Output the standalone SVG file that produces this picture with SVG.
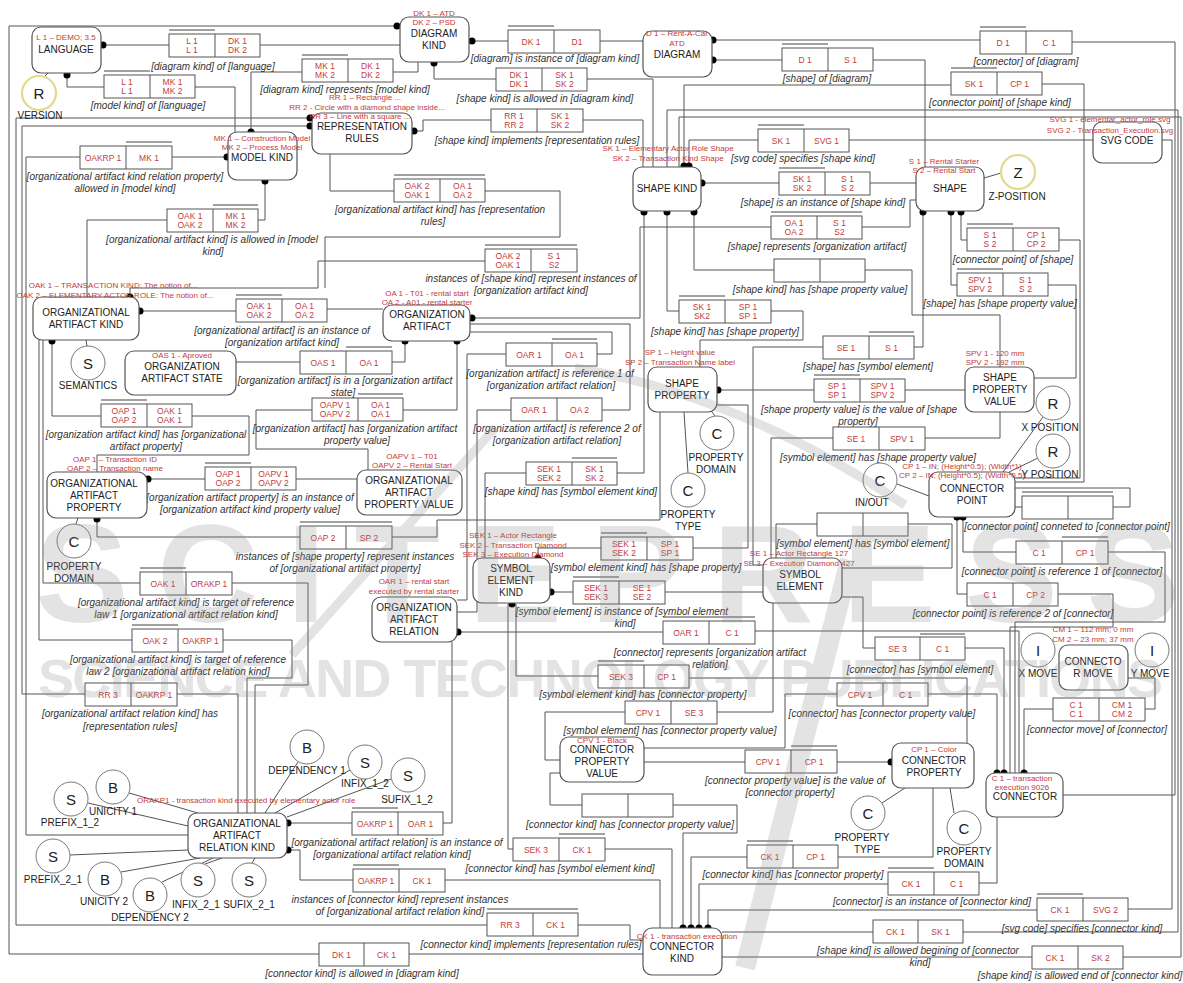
<svg xmlns="http://www.w3.org/2000/svg" width="1183" height="983" viewBox="0 0 1183 983">
<style>
.e{fill:#fff;stroke:#555;stroke-width:1.2}
.t{font-family:"Liberation Sans",Arial,sans-serif;font-size:10px;fill:#222;text-anchor:middle}
.r{font-family:"Liberation Sans",Arial,sans-serif;font-size:8px;fill:#c23b3b;text-anchor:middle}
.rs{font-family:"Liberation Sans",Arial,sans-serif;font-size:8px;fill:#c23b3b}
.ft{font-family:"Liberation Sans",Arial,sans-serif;font-size:8.5px;fill:#c23b3b;text-anchor:middle}
.c{font-family:"Liberation Sans",Arial,sans-serif;font-size:10px;font-style:italic;fill:#333;text-anchor:middle}
.b{fill:#fff;stroke:#555;stroke-width:1}
.d{fill:none;stroke:#555;stroke-width:1}
.bar{fill:none;stroke:#444;stroke-width:1.2}
.cn path{fill:none;stroke:#555;stroke-width:1}
.dots circle{fill:#000}
.v{fill:#fff;stroke:#777;stroke-width:1}
.vy{fill:#fff;stroke:#e3d98c;stroke-width:2.2}
.vl{font-family:"Liberation Sans",Arial,sans-serif;font-size:15px;fill:#222;text-anchor:middle}
.wm{font-family:"Liberation Sans",Arial,sans-serif;font-weight:bold;fill:#8c8c8c}
</style>
<rect width="1183" height="983" fill="#fff"/>
<g id="connectors" class="cn">
<path d="M397,26H9V954H319"/><path d="M409,954H643"/><path d="M103,45H169"/><path d="M260,45H400"/>
<path d="M67,75V87H104"/><path d="M195,87H235V132"/><path d="M251,132V72H302"/><path d="M393,72H418V62"/>
<path d="M472,41H508"/><path d="M600,41H643"/><path d="M434,63V79H496"/><path d="M587,79H653V167"/>
<path d="M414,131H423V120H491"/><path d="M583,120H643V167"/><path d="M330,154V191H394"/>
<path d="M485,191H560V237H325V288"/><path d="M80,157H26V835H188"/><path d="M172,157H227"/>
<path d="M167,220H87V297"/><path d="M258,220H265V181"/><path d="M485,261H318V288H130V297"/>
<path d="M140,311H236"/><path d="M327,309H383"/><path d="M236,362H300"/><path d="M392,362H405V341"/>
<path d="M403,410H457V341"/><path d="M312,410H256V449H368V470"/><path d="M52,341V416H101"/>
<path d="M192,416H249V455H97V472"/><path d="M148,479H205"/><path d="M296,479H357"/>
<path d="M97,519V537H300"/><path d="M392,537H437V520H660V412"/><path d="M43,340V583H140"/>
<path d="M232,583H308V685H255V813"/><path d="M39,340V640H132"/><path d="M223,640H292V678H247V813"/>
<path d="M310,126H22V694H85"/><path d="M177,694H238V813"/><path d="M310,118H16V925H487"/>
<path d="M578,925H630V940H643"/><path d="M288,823H352"/><path d="M443,823H452V642"/>
<path d="M288,850H300V880H353"/><path d="M445,880H660V928"/><path d="M758,140H689V166"/>
<path d="M849,140H1093"/><path d="M702,183H779"/><path d="M870,183H916"/><path d="M472,318H640V227H771"/>
<path d="M862,227H910V200H916"/><path d="M694,212V270H774"/><path d="M865,270H912V315H1000V367"/>
<path d="M667,212V311H679"/><path d="M771,311H803V340H700V367"/><path d="M713,60H782"/>
<path d="M873,60H925V167"/><path d="M713,40H980"/><path d="M1072,42H1175V795H1063"/>
<path d="M684,166V85H951"/><path d="M1042,84H1084V482H1015"/><path d="M961,212V240H967"/>
<path d="M1059,240H1080V478H1015"/><path d="M951,212V285H957"/><path d="M1048,285H1076V378H1034"/>
<path d="M823,347H753V565H763"/><path d="M914,347H923V212"/><path d="M1162,140H1172V909H1128"/>
<path d="M1037,910H708V928"/><path d="M963,932H1178V110H667V167"/><path d="M873,932H722"/>
<path d="M1123,957H1181V117H679V167"/><path d="M1032,957H722"/><path d="M718,390H814"/>
<path d="M905,390H965"/><path d="M833,438H771V558"/><path d="M925,438H1000V412"/>
<path d="M526,473H485V558"/><path d="M617,473H644V212"/><path d="M506,354H467V600H457"/>
<path d="M597,354H612V332H470"/><path d="M511,410H477V612H457"/><path d="M602,410H630V324H470"/>
<path d="M538,558V548H601"/><path d="M693,548H748V405H717"/><path d="M551,592H573"/>
<path d="M665,592H763"/><path d="M458,632H663"/><path d="M755,631H1019V773"/>
<path d="M516,604V676H598"/><path d="M508,604V849H513"/><path d="M689,678H967V743"/>
<path d="M625,712H545V760H560"/><path d="M717,712H773V603"/><path d="M745,762H644"/>
<path d="M837,762H891"/><path d="M560,773H550V805H582"/><path d="M673,805H737V833H683V928"/>
<path d="M605,849H672V928"/><path d="M747,857H691V928"/><path d="M838,857H933V788"/>
<path d="M888,884H699V928"/><path d="M979,883H997V817"/><path d="M963,517V552H1016"/>
<path d="M1108,552H1165V622H1015V773"/><path d="M957,517V594H967"/><path d="M1058,594H1113V627H1010V773"/>
<path d="M1015,507H1022"/><path d="M1113,507H1130V488H1015"/><path d="M817,524H776V558"/>
<path d="M908,524H952V568H842"/><path d="M842,597H863V648H875"/><path d="M965,648H1004V773"/>
<path d="M837,694H785V748H644"/><path d="M928,694H997V773"/><path d="M1053,709H1024V773"/>
<path d="M1145,709H1155V678H1128"/>
<path d="M48,73L44,77"/><path d="M984,178L1001,173"/><path d="M86,340L87,346"/><path d="M78,518L76,524"/>
<path d="M712,412L715,416"/><path d="M684,412L688,473"/><path d="M897,484L929,496"/>
<path d="M1003,472L1043,417"/><path d="M1009,472L1038,458"/><path d="M905,788L882,803"/><path d="M950,788L954,813"/>
<path d="M88,803L188,826"/><path d="M129,793L198,813"/><path d="M70,855L188,850"/><path d="M121,872L200,858"/>
<path d="M162,882L213,858"/><path d="M205,864L222,858"/><path d="M252,863L255,858"/><path d="M298,762L265,813"/>
<path d="M350,770L275,813"/><path d="M391,779L287,817"/>
<g class="dots">
<circle cx="397" cy="26" r="3.5"/><circle cx="103" cy="45" r="3.5"/><circle cx="67" cy="75" r="3.5"/><circle cx="251" cy="132" r="3.5"/>
<circle cx="472" cy="41" r="3.5"/><circle cx="434" cy="63" r="3.5"/><circle cx="310" cy="118" r="3.5"/><circle cx="310" cy="126" r="3.5"/>
<circle cx="414" cy="131" r="3.5"/><circle cx="227" cy="157" r="3.5"/><circle cx="265" cy="181" r="3.5"/><circle cx="130" cy="297" r="3.5"/>
<circle cx="140" cy="311" r="3.5"/><circle cx="52" cy="341" r="3.5"/><circle cx="405" cy="341" r="3.5"/><circle cx="457" cy="341" r="3.5"/>
<circle cx="472" cy="318" r="3.5"/><circle cx="148" cy="479" r="3.5"/><circle cx="97" cy="519" r="3.5"/><circle cx="288" cy="823" r="3.5"/>
<circle cx="288" cy="850" r="3.5"/><circle cx="689" cy="166" r="3.5"/><circle cx="684" cy="166" r="3.5"/><circle cx="702" cy="183" r="3.5"/>
<circle cx="644" cy="212" r="3.5"/><circle cx="667" cy="212" r="3.5"/><circle cx="694" cy="212" r="3.5"/><circle cx="713" cy="40" r="3.5"/>
<circle cx="713" cy="60" r="3.5"/><circle cx="923" cy="212" r="3.5"/><circle cx="951" cy="212" r="3.5"/><circle cx="961" cy="212" r="3.5"/>
<circle cx="718" cy="390" r="3.5"/><circle cx="538" cy="558" r="3.5"/><circle cx="551" cy="592" r="3.5"/><circle cx="512" cy="604" r="3.5"/>
<circle cx="458" cy="632" r="3.5"/><circle cx="891" cy="762" r="3.5"/><circle cx="683" cy="928" r="3.5"/><circle cx="691" cy="928" r="3.5"/>
<circle cx="699" cy="928" r="3.5"/><circle cx="708" cy="928" r="3.5"/><circle cx="957" cy="517" r="3.5"/><circle cx="963" cy="517" r="3.5"/>
<circle cx="997" cy="773" r="3.5"/><circle cx="1004" cy="773" r="3.5"/><circle cx="1024" cy="773" r="3.5"/>
</g>
</g>
<g id="facts">
<g id="f01"><rect class="b" x="169" y="34" width="91" height="23"/><path class="d" d="M215,34V57"/><path class="bar" d="M169,30H215"/><text class="ft" x="192" y="43.5">L 1</text><text class="ft" x="192" y="53">L 1</text><text class="ft" x="237.5" y="43.5">DK 1</text><text class="ft" x="237.5" y="53">DK 2</text><text class="c" x="213" y="70">[diagram kind] of [language]</text></g>
<g id="f02"><rect class="b" x="104" y="75" width="91" height="23"/><path class="d" d="M150,75V98"/><path class="bar" d="M104,71H150"/><text class="ft" x="127" y="84.5">L 1</text><text class="ft" x="127" y="94">L 1</text><text class="ft" x="172.5" y="84.5">MK 1</text><text class="ft" x="172.5" y="94">MK 2</text><text class="c" x="148" y="109">[model kind] of [language]</text></g>
<g id="f03"><rect class="b" x="302" y="59" width="91" height="23"/><path class="d" d="M348,59V82"/><path class="bar" d="M302,55H348"/><text class="ft" x="325" y="68.5">MK 1</text><text class="ft" x="325" y="78">MK 2</text><text class="ft" x="370.5" y="68.5">DK 1</text><text class="ft" x="370.5" y="78">DK 2</text><text class="c" x="345" y="93">[diagram kind] represents [model kind]</text></g>
<g id="f04"><rect class="b" x="508" y="30" width="92" height="23"/><path class="d" d="M554,30V53"/><path class="bar" d="M508,26H554"/><text class="ft" x="531" y="44.5">DK 1</text><text class="ft" x="577" y="44.5">D1</text><text class="c" x="555" y="62">[diagram] is instance of [diagram kind]</text></g>
<g id="f05"><rect class="b" x="496" y="68" width="91" height="23"/><path class="d" d="M542,68V91"/><text class="ft" x="519" y="77.5">DK 1</text><text class="ft" x="519" y="87">DK 1</text><text class="ft" x="564.5" y="77.5">SK 1</text><text class="ft" x="564.5" y="87">SK 2</text><text class="c" x="545" y="102">[shape kind] is allowed in [diagram kind]</text></g>
<g id="f06"><rect class="b" x="491" y="109" width="92" height="23"/><path class="d" d="M537,109V132"/><text class="ft" x="514" y="118.5">RR 1</text><text class="ft" x="514" y="128">RR 2</text><text class="ft" x="560" y="118.5">SK 1</text><text class="ft" x="560" y="128">SK 2</text><text class="c" x="537" y="144">[shape kind] implements [representation rules]</text></g>
<g id="f07"><rect class="b" x="394" y="179" width="91" height="23"/><path class="d" d="M440,179V202"/><path class="bar" d="M394,175H485"/><text class="ft" x="417" y="188.5">OAK 2</text><text class="ft" x="417" y="198">OAK 1</text><text class="ft" x="462.5" y="188.5">OA 1</text><text class="ft" x="462.5" y="198">OA 2</text><text class="c" x="440" y="213">[organizational artifact kind] has [representation</text><text class="c" x="433" y="225">rules]</text></g>
<g id="f08"><rect class="b" x="80" y="146" width="92" height="23"/><path class="d" d="M126,146V169"/><path class="bar" d="M126,142H172"/><text class="ft" x="103" y="160.5">OAKRP 1</text><text class="ft" x="149" y="160.5">MK 1</text><text class="c" x="125" y="180">[organizational artifact kind relation property]</text><text class="c" x="125" y="192">allowed in [model kind]</text></g>
<g id="f09"><rect class="b" x="167" y="209" width="91" height="23"/><path class="d" d="M213,209V232"/><path class="bar" d="M213,205H258"/><text class="ft" x="190" y="218.5">OAK 1</text><text class="ft" x="190" y="228">OAK 2</text><text class="ft" x="235.5" y="218.5">MK 1</text><text class="ft" x="235.5" y="228">MK 2</text><text class="c" x="212" y="243">[organizational artifact kind] is allowed in [model</text><text class="c" x="213" y="255">kind]</text></g>
<g id="f10"><rect class="b" x="485" y="249" width="92" height="23"/><path class="d" d="M531,249V272"/><path class="bar" d="M485,245H577"/><text class="ft" x="508" y="258.5">OAK 2</text><text class="ft" x="508" y="268">OAK 1</text><text class="ft" x="554" y="258.5">S 1</text><text class="ft" x="554" y="268">S2</text><text class="c" x="531" y="282">instances of [shape kind] represent instances of</text><text class="c" x="531" y="294">[organization artifact kind]</text></g>
<g id="f11"><rect class="b" x="236" y="299" width="91" height="23"/><path class="d" d="M282,299V322"/><path class="bar" d="M236,295H282"/><text class="ft" x="259" y="308.5">OAK 1</text><text class="ft" x="259" y="318">OAK 2</text><text class="ft" x="304.5" y="308.5">OA 1</text><text class="ft" x="304.5" y="318">OA 2</text><text class="c" x="282" y="334">[organizational artifact] is an instance of</text><text class="c" x="282" y="346">[organization artifact kind]</text></g>
<g id="f12"><rect class="b" x="300" y="351" width="92" height="23"/><path class="d" d="M346,351V374"/><path class="bar" d="M346,347H392"/><text class="ft" x="323" y="365.5">OAS 1</text><text class="ft" x="369" y="365.5">OA 1</text><text class="c" x="345" y="384">[organization artifact] is in a [organization artifact</text><text class="c" x="343" y="396">state]</text></g>
<g id="f13"><rect class="b" x="312" y="398" width="91" height="23"/><path class="d" d="M358,398V421"/><path class="bar" d="M358,394H403"/><text class="ft" x="335" y="407.5">OAPV 1</text><text class="ft" x="335" y="417">OAPV 2</text><text class="ft" x="380.5" y="407.5">OA 1</text><text class="ft" x="380.5" y="417">OA 1</text><text class="c" x="355" y="432">[organization artifact] has [organization artifact</text><text class="c" x="357" y="444">property value]</text></g>
<g id="f14"><rect class="b" x="101" y="404" width="91" height="23"/><path class="d" d="M147,404V427"/><path class="bar" d="M101,400H147"/><text class="ft" x="124" y="413.5">OAP 1</text><text class="ft" x="124" y="423">OAP 2</text><text class="ft" x="169.5" y="413.5">OAK 1</text><text class="ft" x="169.5" y="423">OAK 1</text><text class="c" x="146" y="438">[organization artifact kind] has [organizational</text><text class="c" x="146" y="450">artifact property]</text></g>
<g id="f15"><rect class="b" x="205" y="467" width="91" height="23"/><path class="d" d="M251,467V490"/><path class="bar" d="M205,463H251"/><text class="ft" x="228" y="476.5">OAP 1</text><text class="ft" x="228" y="486">OAP 2</text><text class="ft" x="273.5" y="476.5">OAPV 1</text><text class="ft" x="273.5" y="486">OAPV 2</text><text class="c" x="250" y="501">[organization artifact property] is an instance of</text><text class="c" x="250" y="513">[organization artifact kind property value]</text></g>
<g id="f16"><rect class="b" x="300" y="526" width="92" height="23"/><path class="d" d="M346,526V549"/><path class="bar" d="M300,522H392"/><text class="ft" x="323" y="540.5">OAP 2</text><text class="ft" x="369" y="540.5">SP 2</text><text class="c" x="345" y="560">instances of [shape property] represent instances</text><text class="c" x="345" y="572">of [organizational artifact property]</text></g>
<g id="f17"><rect class="b" x="140" y="572" width="92" height="23"/><path class="d" d="M186,572V595"/><path class="bar" d="M140,568H186"/><text class="ft" x="163" y="586.5">OAK 1</text><text class="ft" x="209" y="586.5">ORAKP 1</text><text class="c" x="186" y="606">[organizational artifact kind] is target of reference</text><text class="c" x="186" y="618">law 1 [organizational artifact relation kind]</text></g>
<g id="f18"><rect class="b" x="132" y="629" width="91" height="23"/><path class="d" d="M178,629V652"/><path class="bar" d="M132,625H178"/><text class="ft" x="155" y="643.5">OAK 2</text><text class="ft" x="200.5" y="643.5">OAKRP 1</text><text class="c" x="178" y="663">[organizational artifact kind] is target of reference</text><text class="c" x="178" y="675">law 2 [organizational artifact relation kind]</text></g>
<g id="f19"><rect class="b" x="85" y="683" width="92" height="23"/><path class="d" d="M131,683V706"/><text class="ft" x="108" y="697.5">RR 3</text><text class="ft" x="154" y="697.5">OAKRP 1</text><text class="c" x="130" y="717">[organizational artifact relation kind] has</text><text class="c" x="130" y="730">[representation rules]</text></g>
<g id="f20"><rect class="b" x="352" y="812" width="91" height="23"/><path class="d" d="M398,812V835"/><path class="bar" d="M352,808H398"/><text class="ft" x="375" y="826.5">OAKRP 1</text><text class="ft" x="420.5" y="826.5">OAR 1</text><text class="c" x="397" y="846">[organizational artifact relation] is an instance of</text><text class="c" x="392" y="858">[organizational artifact relation kind]</text></g>
<g id="f21"><rect class="b" x="353" y="869" width="92" height="23"/><path class="d" d="M399,869V892"/><path class="bar" d="M353,865H399"/><text class="ft" x="376" y="883.5">OAKRP 1</text><text class="ft" x="422" y="883.5">CK 1</text><text class="c" x="400" y="903">instances of [connector kind] represent instances</text><text class="c" x="400" y="915">of [organizational artifact relation kind]</text></g>
<g id="f22"><rect class="b" x="487" y="913" width="91" height="23"/><path class="d" d="M533,913V936"/><path class="bar" d="M487,909H578"/><text class="ft" x="510" y="927.5">RR 3</text><text class="ft" x="555.5" y="927.5">CK 1</text><text class="c" x="531" y="948">[connector kind] implements [representation rules]</text></g>
<g id="f23"><rect class="b" x="319" y="943" width="90" height="23"/><path class="d" d="M364,943V966"/><text class="ft" x="341.5" y="957.5">DK 1</text><text class="ft" x="386.5" y="957.5">CK 1</text><text class="c" x="362" y="977">[connector kind] is allowed in [diagram kind]</text></g>
<g id="f24"><rect class="b" x="758" y="129" width="91" height="23"/><path class="d" d="M804,129V152"/><path class="bar" d="M758,125H804"/><text class="ft" x="781" y="143.5">SK 1</text><text class="ft" x="826.5" y="143.5">SVG 1</text><text class="c" x="803" y="162">[svg code] specifies [shape kind]</text></g>
<g id="f25"><rect class="b" x="779" y="172" width="91" height="23"/><path class="d" d="M825,172V195"/><path class="bar" d="M779,168H825"/><text class="ft" x="802" y="181.5">SK 1</text><text class="ft" x="802" y="191">SK 2</text><text class="ft" x="847.5" y="181.5">S 1</text><text class="ft" x="847.5" y="191">S 2</text><text class="c" x="823" y="206">[shape] is an instance of [shape kind]</text></g>
<g id="f26"><rect class="b" x="771" y="216" width="91" height="23"/><path class="d" d="M817,216V239"/><path class="bar" d="M771,212H862"/><text class="ft" x="794" y="225.5">OA 1</text><text class="ft" x="794" y="235">OA 2</text><text class="ft" x="839.5" y="225.5">S 1</text><text class="ft" x="839.5" y="235">S2</text><text class="c" x="817" y="250">[shape] represents [organization artifact]</text></g>
<g id="f27"><rect class="b" x="774" y="259" width="91" height="23"/><path class="d" d="M820,259V282"/><text class="c" x="820" y="293">[shape kind] has [shape property value]</text></g>
<g id="f28"><rect class="b" x="679" y="300" width="92" height="23"/><path class="d" d="M725,300V323"/><path class="bar" d="M679,296H725"/><text class="ft" x="702" y="309.5">SK 1</text><text class="ft" x="702" y="319">SK2</text><text class="ft" x="748" y="309.5">SP 1</text><text class="ft" x="748" y="319">SP 1</text><text class="c" x="725" y="335">[shape kind] has [shape property]</text></g>
<g id="f29"><rect class="b" x="782" y="48" width="91" height="23"/><path class="d" d="M828,48V71"/><path class="bar" d="M782,44H828"/><text class="ft" x="805" y="62.5">D 1</text><text class="ft" x="850.5" y="62.5">S 1</text><text class="c" x="827" y="82">[shape] of [diagram]</text></g>
<g id="f30"><rect class="b" x="980" y="31" width="92" height="23"/><path class="d" d="M1026,31V54"/><path class="bar" d="M980,27H1026"/><text class="ft" x="1003" y="45.5">D 1</text><text class="ft" x="1049" y="45.5">C 1</text><text class="c" x="1026" y="65">[connector] of [diagram]</text></g>
<g id="f31"><rect class="b" x="951" y="72" width="91" height="23"/><path class="d" d="M997,72V95"/><path class="bar" d="M951,68H997"/><text class="ft" x="974" y="86.5">SK 1</text><text class="ft" x="1019.5" y="86.5">CP 1</text><text class="c" x="1000" y="106">[connector point] of [shape kind]</text></g>
<g id="f32"><rect class="b" x="967" y="228" width="92" height="23"/><path class="d" d="M1013,228V251"/><path class="bar" d="M967,224H1013"/><text class="ft" x="990" y="237.5">S 1</text><text class="ft" x="990" y="247">S 2</text><text class="ft" x="1036" y="237.5">CP 1</text><text class="ft" x="1036" y="247">CP 2</text><text class="c" x="1013" y="263">[connector point] of [shape]</text></g>
<g id="f33"><rect class="b" x="957" y="273" width="91" height="23"/><path class="d" d="M1003,273V296"/><path class="bar" d="M957,269H1003"/><text class="ft" x="980" y="282.5">SPV 1</text><text class="ft" x="980" y="292">SPV 2</text><text class="ft" x="1025.5" y="282.5">S 1</text><text class="ft" x="1025.5" y="292">S 2</text><text class="c" x="1000" y="307">[shape] has [shape property value]</text></g>
<g id="f34"><rect class="b" x="823" y="336" width="91" height="23"/><path class="d" d="M869,336V359"/><path class="bar" d="M869,332H914"/><text class="ft" x="846" y="350.5">SE 1</text><text class="ft" x="891.5" y="350.5">S 1</text><text class="c" x="868" y="370">[shape] has [symbol element]</text></g>
<g id="f35"><rect class="b" x="814" y="379" width="91" height="23"/><path class="d" d="M860,379V402"/><path class="bar" d="M814,375H860"/><text class="ft" x="837" y="388.5">SP 1</text><text class="ft" x="837" y="398">SP 1</text><text class="ft" x="882.5" y="388.5">SPV 1</text><text class="ft" x="882.5" y="398">SPV 2</text><text class="c" x="859" y="413">[shape property value] is the value of [shape</text><text class="c" x="858" y="425">property]</text></g>
<g id="f36"><rect class="b" x="833" y="427" width="92" height="23"/><path class="d" d="M879,427V450"/><text class="ft" x="856" y="441.5">SE 1</text><text class="ft" x="902" y="441.5">SPV 1</text><text class="c" x="878" y="461">[symbol element] has [shape property value]</text></g>
<g id="f37"><rect class="b" x="526" y="462" width="91" height="23"/><path class="d" d="M572,462V485"/><path class="bar" d="M572,458H617"/><text class="ft" x="549" y="471.5">SEK 1</text><text class="ft" x="549" y="481">SEK 2</text><text class="ft" x="594.5" y="471.5">SK 1</text><text class="ft" x="594.5" y="481">SK 2</text><text class="c" x="571" y="495">[shape kind] has [symbol element kind]</text></g>
<g id="f38"><rect class="b" x="506" y="343" width="91" height="23"/><path class="d" d="M552,343V366"/><path class="bar" d="M552,339H597"/><text class="ft" x="529" y="357.5">OAR 1</text><text class="ft" x="574.5" y="357.5">OA 1</text><text class="c" x="550" y="377">[organization artifact] is reference 1 of</text><text class="c" x="551" y="389">[organization artifact relation]</text></g>
<g id="f39"><rect class="b" x="511" y="398" width="91" height="23"/><path class="d" d="M557,398V421"/><text class="ft" x="534" y="412.5">OAR 1</text><text class="ft" x="579.5" y="412.5">OA 2</text><text class="c" x="557" y="432">[organization artifact] is reference 2 of</text><text class="c" x="557" y="444">[organization artifact relation]</text></g>
<g id="f40"><rect class="b" x="601" y="537" width="92" height="23"/><path class="d" d="M647,537V560"/><path class="bar" d="M601,533H647"/><text class="ft" x="624" y="546.5">SEK 1</text><text class="ft" x="624" y="556">SEK 2</text><text class="ft" x="670" y="546.5">SP 1</text><text class="ft" x="670" y="556">SP 1</text><text class="c" x="646" y="571">[symbol element kind] has [shape property]</text></g>
<g id="f41"><rect class="b" x="573" y="581" width="92" height="23"/><path class="d" d="M619,581V604"/><path class="bar" d="M573,577H619"/><text class="ft" x="596" y="590.5">SEK 1</text><text class="ft" x="596" y="600">SEK 3</text><text class="ft" x="642" y="590.5">SE 1</text><text class="ft" x="642" y="600">SE 2</text><text class="c" x="622" y="615">[symbol element] is instance of [symbol element</text><text class="c" x="625" y="627">kind]</text></g>
<g id="f42"><rect class="b" x="663" y="621" width="92" height="23"/><path class="d" d="M709,621V644"/><path class="bar" d="M663,617H755"/><text class="ft" x="686" y="635.5">OAR 1</text><text class="ft" x="732" y="635.5">C 1</text><text class="c" x="710" y="656">[connector] represents [organization artifact</text><text class="c" x="710" y="668">relation]</text></g>
<g id="f43"><rect class="b" x="598" y="665" width="91" height="23"/><path class="d" d="M644,665V688"/><path class="bar" d="M598,661H644"/><text class="ft" x="621" y="679.5">SEK 3</text><text class="ft" x="666.5" y="679.5">CP 1</text><text class="c" x="643" y="698">[symbol element kind] has [connector property]</text></g>
<g id="f44"><rect class="b" x="625" y="701" width="92" height="23"/><path class="d" d="M671,701V724"/><text class="ft" x="648" y="715.5">CPV 1</text><text class="ft" x="694" y="715.5">SE 3</text><text class="c" x="670" y="734">[symbol element] has [connector property value]</text></g>
<g id="f45"><rect class="b" x="745" y="750" width="92" height="23"/><path class="d" d="M791,750V773"/><path class="bar" d="M791,746H837"/><text class="ft" x="768" y="764.5">CPV 1</text><text class="ft" x="814" y="764.5">CP 1</text><text class="c" x="795" y="784">[connector property value] is the value of</text><text class="c" x="790" y="796">[connector property]</text></g>
<g id="f46"><rect class="b" x="582" y="794" width="91" height="23"/><path class="d" d="M628,794V817"/><text class="c" x="630" y="828">[connector kind] has [connector property value]</text></g>
<g id="f47"><rect class="b" x="513" y="838" width="92" height="23"/><path class="d" d="M559,838V861"/><path class="bar" d="M559,834H605"/><text class="ft" x="536" y="852.5">SEK 3</text><text class="ft" x="582" y="852.5">CK 1</text><text class="c" x="560" y="872">[connector kind] has [symbol element kind]</text></g>
<g id="f48"><rect class="b" x="747" y="845" width="91" height="23"/><path class="d" d="M793,845V868"/><path class="bar" d="M747,841H793"/><text class="ft" x="770" y="859.5">CK 1</text><text class="ft" x="815.5" y="859.5">CP 1</text><text class="c" x="793" y="878">[connector kind] has [connector property]</text></g>
<g id="f49"><rect class="b" x="888" y="872" width="91" height="23"/><path class="d" d="M934,872V895"/><path class="bar" d="M888,868H934"/><text class="ft" x="911" y="886.5">CK 1</text><text class="ft" x="956.5" y="886.5">C 1</text><text class="c" x="932" y="905">[connector] is an instance of [connector kind]</text></g>
<g id="f50"><rect class="b" x="1037" y="898" width="91" height="23"/><path class="d" d="M1083,898V921"/><path class="bar" d="M1037,894H1083"/><text class="ft" x="1060" y="912.5">CK 1</text><text class="ft" x="1105.5" y="912.5">SVG 2</text><text class="c" x="1082" y="932">[svg code] specifies [connector kind]</text></g>
<g id="f51"><rect class="b" x="873" y="920" width="90" height="23"/><path class="d" d="M918,920V943"/><text class="ft" x="895.5" y="934.5">CK 1</text><text class="ft" x="940.5" y="934.5">SK 1</text><text class="c" x="918" y="954">[shape kind] is allowed begining of [connector</text><text class="c" x="920" y="966">kind]</text></g>
<g id="f52"><rect class="b" x="1032" y="946" width="91" height="23"/><path class="d" d="M1078,946V969"/><text class="ft" x="1055" y="960.5">CK 1</text><text class="ft" x="1100.5" y="960.5">SK 2</text><text class="c" x="1080" y="979">[shape kind] is allowed end of [connector kind]</text></g>
<g id="f53"><rect class="b" x="1016" y="541" width="92" height="23"/><path class="d" d="M1062,541V564"/><path class="bar" d="M1062,537H1108"/><text class="ft" x="1039" y="555.5">C 1</text><text class="ft" x="1085" y="555.5">CP 1</text><text class="c" x="1062" y="575">[connector point] is reference 1 of [connector]</text></g>
<g id="f54"><rect class="b" x="967" y="583" width="91" height="23"/><path class="d" d="M1013,583V606"/><text class="ft" x="990" y="597.5">C 1</text><text class="ft" x="1035.5" y="597.5">CP 2</text><text class="c" x="1013" y="617">[connector point] is reference 2 of [connector]</text></g>
<g id="f55"><rect class="b" x="1022" y="496" width="91" height="23"/><path class="d" d="M1068,496V519"/><path class="bar" d="M1022,492H1113"/><text class="c" x="1067" y="530">[connector point] conneted to [connector point]</text></g>
<g id="f56"><rect class="b" x="817" y="513" width="91" height="23"/><path class="d" d="M863,513V536"/><text class="c" x="863" y="547">[symbol element] has [symbol element]</text></g>
<g id="f57"><rect class="b" x="875" y="637" width="90" height="23"/><path class="d" d="M920,637V660"/><path class="bar" d="M920,634H965"/><text class="ft" x="897.5" y="651.5">SE 3</text><text class="ft" x="942.5" y="651.5">C 1</text><text class="c" x="920" y="673">[connector] has [symbol element]</text></g>
<g id="f58"><rect class="b" x="837" y="683" width="91" height="23"/><path class="d" d="M883,683V706"/><text class="ft" x="860" y="697.5">CPV 1</text><text class="ft" x="905.5" y="697.5">C 1</text><text class="c" x="882" y="717">[connector] has [connector property value]</text></g>
<g id="f59"><rect class="b" x="1053" y="698" width="92" height="23"/><path class="d" d="M1099,698V721"/><text class="ft" x="1076" y="707.5">C 1</text><text class="ft" x="1076" y="717">C 1</text><text class="ft" x="1122" y="707.5">CM 1</text><text class="ft" x="1122" y="717">CM 2</text><text class="c" x="1097" y="733">[connector move] of [connector]</text></g>
</g>
<g id="entities">
<g id="language"><rect class="e" x="32" y="27" width="69" height="46" rx="9"/><text class="r" x="66" y="40">L 1 – DEMO; 3.5</text><text class="t" x="66" y="53">LANGUAGE</text></g>
<g id="diagram-kind"><rect class="e" x="400" y="17" width="69" height="45" rx="9"/><text class="r" x="434" y="16">DK 1 – ATD</text><text class="r" x="434" y="25">DK 2 – PSD</text><text class="t" x="434" y="37">DIAGRAM</text><text class="t" x="434" y="49">KIND</text></g>
<g id="diagram"><rect class="e" x="643" y="31" width="69" height="46" rx="9"/><text class="r" x="677" y="36">D 1 – Rent-A-Car</text><text class="r" x="677" y="46">ATD</text><text class="t" x="677" y="58">DIAGRAM</text></g>
<g id="representation-rules"><rect class="e" x="312" y="113" width="100" height="41" rx="9"/><text class="r" x="365" y="100">RR 1 – Rectangle ...</text><text class="r" x="367" y="110">RR 2 - Circle with a diamond shape inside...</text><text class="r" x="360" y="119">RR 3 – Line with a square ...</text><text class="t" x="362" y="130">REPRESENTATION</text><text class="t" x="362" y="142">RULES</text></g>
<g id="model-kind"><rect class="e" x="228" y="132" width="69" height="48" rx="9"/><text class="r" x="262" y="141">MK 1 – Construction Model</text><text class="r" x="262" y="150">MK 2 – Process Model</text><text class="t" x="262" y="161">MODEL KIND</text></g>
<g id="shape-kind"><rect class="e" x="633" y="167" width="68" height="44" rx="9"/><text class="r" x="668" y="151">SK 1 – Elementary Actor Role Shape</text><text class="r" x="668" y="161">SK 2 – Transaction Kind Shape</text><text class="t" x="667" y="192">SHAPE KIND</text></g>
<g id="shape"><rect class="e" x="916" y="167" width="68" height="44" rx="9"/><text class="r" x="944" y="164">S 1 – Rental Starter</text><text class="r" x="944" y="173">S 2 – Rental Start</text><text class="t" x="950" y="192">SHAPE</text></g>
<g id="svg-code"><rect class="e" x="1093" y="122" width="69" height="41" rx="9"/><text class="r" x="1110" y="122">SVG 1 - elementar_actor_role.svg</text><text class="r" x="1110" y="133">SVG 2 - Transaction_Execution.svg</text><text class="t" x="1127" y="144">SVG CODE</text></g>
<g id="org-artifact-kind"><rect class="e" x="33" y="297" width="106" height="43" rx="9"/><text class="r" x="113" y="288">OAK 1 – TRANSACTION KIND: The notion of...</text><text class="r" x="115" y="298">OAK 2 – ELEMENTARY ACTOR ROLE: The notion of...</text><text class="t" x="86" y="316">ORGANIZATIONAL</text><text class="t" x="86" y="328">ARTIFACT KIND</text></g>
<g id="org-artifact-state"><rect class="e" x="125" y="351" width="111" height="44" rx="9"/><text class="r" x="182" y="358">OAS 1 - Aproved</text><text class="t" x="182" y="370">ORGANIZATION</text><text class="t" x="182" y="382">ARTIFACT STATE</text></g>
<g id="org-artifact"><rect class="e" x="383" y="305" width="87" height="36" rx="9"/><text class="r" x="427" y="296">OA 1 - T01 - rental start</text><text class="r" x="427" y="305">OA 2 - A01 - rental starter</text><text class="t" x="427" y="318">ORGANIZATION</text><text class="t" x="427" y="330">ARTIFACT</text></g>
<g id="org-artifact-property"><rect class="e" x="47" y="472" width="100" height="46" rx="9"/><text class="r" x="115" y="462">OAP 1 – Transaction ID</text><text class="r" x="115" y="471">OAP 2 – Transaction name</text><text class="t" x="94" y="487">ORGANIZATIONAL</text><text class="t" x="94" y="499">ARTIFACT</text><text class="t" x="94" y="511">PROPERTY</text></g>
<g id="org-artifact-property-value"><rect class="e" x="357" y="470" width="105" height="45" rx="9"/><text class="r" x="412" y="459">OAPV 1 – T01</text><text class="r" x="412" y="468">OAPV 2 – Rental Start</text><text class="t" x="409" y="484">ORGANIZATIONAL</text><text class="t" x="409" y="496">ARTIFACT</text><text class="t" x="409" y="508">PROPERTY VALUE</text></g>
<g id="org-artifact-relation"><rect class="e" x="372" y="597" width="85" height="45" rx="9"/><text class="r" x="414" y="584">OAR 1 – rental start</text><text class="r" x="414" y="594">executed by rental starter</text><text class="t" x="414" y="611">ORGANIZATION</text><text class="t" x="414" y="623">ARTIFACT</text><text class="t" x="414" y="635">RELATION</text></g>
<g id="symbol-element-kind"><rect class="e" x="473" y="558" width="77" height="45" rx="9"/><text class="r" x="513" y="538">SEK 1 – Actor Rectangle</text><text class="r" x="513" y="548">SEK 2 – Transaction Diamond</text><text class="r" x="513" y="557">SEK 3 – Execution Diamond</text><text class="t" x="511" y="572">SYMBOL</text><text class="t" x="511" y="584">ELEMENT</text><text class="t" x="511" y="596">KIND</text></g>
<g id="shape-property"><rect class="e" x="648" y="367" width="69" height="45" rx="9"/><text class="r" x="680" y="355">SP 1 – Height value</text><text class="r" x="680" y="365">SP 2 – Transaction Name label</text><text class="t" x="682" y="387">SHAPE</text><text class="t" x="682" y="399">PROPERTY</text></g>
<g id="symbol-element"><rect class="e" x="763" y="558" width="79" height="45" rx="9"/><text class="r" x="799" y="556">SE 1 – Actor Rectangle 127</text><text class="r" x="799" y="566">SE 3 – Execution Diamond 427</text><text class="t" x="800" y="578">SYMBOL</text><text class="t" x="800" y="590">ELEMENT</text></g>
<g id="shape-property-value"><rect class="e" x="965" y="367" width="69" height="45" rx="9"/><text class="r" x="995" y="356">SPV 1 - 120 mm</text><text class="r" x="995" y="365">SPV 2 - 192 mm</text><text class="t" x="1000" y="381">SHAPE</text><text class="t" x="1000" y="393">PROPERTY</text><text class="t" x="1000" y="405">VALUE</text></g>
<g id="connector-point"><rect class="e" x="929" y="472" width="86" height="45" rx="9"/><text class="r" x="962" y="469">CP 1 – IN; (Height*0.5); (Width*1)</text><text class="r" x="962" y="478">CP 2 – IN; (Height*0.5); (Width*0.5)</text><text class="t" x="972" y="492">CONNECTOR</text><text class="t" x="972" y="504">POINT</text></g>
<g id="connector-move"><rect class="e" x="1059" y="645" width="69" height="45" rx="9"/><text class="r" x="1093" y="632">CM 1 – 112 mm; 0 mm</text><text class="r" x="1093" y="642">CM 2 – 23 mm; 37 mm</text><text class="t" x="1093" y="665">CONNECTO</text><text class="t" x="1093" y="677">R MOVE</text></g>
<g id="connector"><rect class="e" x="986" y="773" width="77" height="44" rx="9"/><text class="r" x="1022" y="781">C 1 – transaction</text><text class="r" x="1022" y="790">execution 9026</text><text class="t" x="1025" y="800">CONNECTOR</text></g>
<g id="connector-property"><rect class="e" x="892" y="743" width="82" height="45" rx="9"/><text class="r" x="934" y="752">CP 1 – Color</text><text class="t" x="934" y="764">CONNECTOR</text><text class="t" x="934" y="776">PROPERTY</text></g>
<g id="connector-property-value"><rect class="e" x="560" y="737" width="84" height="45" rx="9"/><text class="r" x="602" y="743">CPV 1 - Black</text><text class="t" x="602" y="753">CONNECTOR</text><text class="t" x="602" y="765">PROPERTY</text><text class="t" x="602" y="777">VALUE</text></g>
<g id="connector-kind"><rect class="e" x="643" y="928" width="79" height="47" rx="9"/><text class="r" x="687" y="939">CK 1 - transaction execution</text><text class="t" x="682" y="950">CONNECTOR</text><text class="t" x="682" y="962">KIND</text></g>
<g id="org-artifact-relation-kind"><rect class="e" x="188" y="813" width="99" height="45" rx="9"/><text class="rs" x="137" y="803">ORAKP1 - transaction kind executed by elementary actor role</text><text class="t" x="237" y="827">ORGANIZATIONAL</text><text class="t" x="237" y="839">ARTIFACT</text><text class="t" x="237" y="851">RELATION KIND</text></g>
</g>
<g id="values">
<g id="v-version"><circle class="vy" cx="39" cy="93" r="17"/><text class="vl" x="39" y="98.5">R</text><text class="t" x="40" y="119">VERSION</text></g>
<g id="v-zpos"><circle class="vy" cx="1018" cy="172" r="17"/><text class="vl" x="1018" y="177.5">Z</text><text class="t" x="1017" y="200">Z-POSITION</text></g>
<g id="v-semantics"><circle class="v" cx="88" cy="363" r="17"/><text class="vl" x="88" y="368.5">S</text><text class="t" x="88" y="389">SEMANTICS</text></g>
<g id="v-pd1"><circle class="v" cx="74" cy="541" r="17"/><text class="vl" x="74" y="546.5">C</text><text class="t" x="74" y="570">PROPERTY</text><text class="t" x="74" y="582">DOMAIN</text></g>
<g id="v-pd2"><circle class="v" cx="717" cy="433" r="17"/><text class="vl" x="717" y="438.5">C</text><text class="t" x="716" y="461">PROPERTY</text><text class="t" x="716" y="473">DOMAIN</text></g>
<g id="v-pt1"><circle class="v" cx="688" cy="490" r="17"/><text class="vl" x="688" y="495.5">C</text><text class="t" x="688" y="518">PROPERTY</text><text class="t" x="688" y="530">TYPE</text></g>
<g id="v-inout"><circle class="v" cx="880" cy="480" r="17"/><text class="vl" x="880" y="485.5">C</text><text class="t" x="872" y="506">IN/OUT</text></g>
<g id="v-xpos"><circle class="v" cx="1053" cy="403" r="17"/><text class="vl" x="1053" y="408.5">R</text><text class="t" x="1050" y="431">X POSITION</text></g>
<g id="v-ypos"><circle class="v" cx="1053" cy="451" r="17"/><text class="vl" x="1053" y="456.5">R</text><text class="t" x="1050" y="478">Y POSITION</text></g>
<g id="v-xmove"><circle class="v" cx="1038" cy="650" r="17"/><text class="vl" x="1038" y="655.5">I</text><text class="t" x="1038" y="677">X MOVE</text></g>
<g id="v-ymove"><circle class="v" cx="1152" cy="650" r="17"/><text class="vl" x="1152" y="655.5">I</text><text class="t" x="1150" y="677">Y MOVE</text></g>
<g id="v-pt2"><circle class="v" cx="868" cy="813" r="17"/><text class="vl" x="868" y="818.5">C</text><text class="t" x="862" y="841">PROPERTY</text><text class="t" x="867" y="853">TYPE</text></g>
<g id="v-pd3"><circle class="v" cx="964" cy="828" r="17"/><text class="vl" x="964" y="833.5">C</text><text class="t" x="964" y="855">PROPERTY</text><text class="t" x="964" y="867">DOMAIN</text></g>
<g id="v-prefix12"><circle class="v" cx="71" cy="799" r="17"/><text class="vl" x="71" y="804.5">S</text><text class="t" x="70" y="826">PREFIX_1_2</text></g>
<g id="v-unicity1"><circle class="v" cx="113" cy="787" r="17"/><text class="vl" x="113" y="792.5">B</text><text class="t" x="113" y="815">UNICITY 1</text></g>
<g id="v-prefix21"><circle class="v" cx="53" cy="856" r="17"/><text class="vl" x="53" y="861.5">S</text><text class="t" x="53" y="883">PREFIX_2_1</text></g>
<g id="v-unicity2"><circle class="v" cx="105" cy="879" r="17"/><text class="vl" x="105" y="884.5">B</text><text class="t" x="104" y="905">UNICITY 2</text></g>
<g id="v-dep2"><circle class="v" cx="150" cy="895" r="17"/><text class="vl" x="150" y="900.5">B</text><text class="t" x="150" y="921">DEPENDENCY 2</text></g>
<g id="v-infix21"><circle class="v" cx="198" cy="880" r="17"/><text class="vl" x="198" y="885.5">S</text><text class="t" x="196" y="908">INFIX_2_1</text></g>
<g id="v-sufix21"><circle class="v" cx="249" cy="880" r="17"/><text class="vl" x="249" y="885.5">S</text><text class="t" x="249" y="908">SUFIX_2_1</text></g>
<g id="v-dep1"><circle class="v" cx="307" cy="747" r="17"/><text class="vl" x="307" y="752.5">B</text><text class="t" x="307" y="774">DEPENDENCY 1</text></g>
<g id="v-infix12"><circle class="v" cx="365" cy="762" r="17"/><text class="vl" x="365" y="767.5">S</text><text class="t" x="365" y="787">INFIX_1_2</text></g>
<g id="v-sufix12"><circle class="v" cx="408" cy="775" r="17"/><text class="vl" x="408" y="780.5">S</text><text class="t" x="407" y="803">SUFIX_1_2</text></g>
</g>
<g id="watermark" opacity="0.24">
<path d="M292,655L495,428" fill="none" stroke="#8c8c8c" stroke-width="9"/>
<path d="M575,368Q740,395 905,505" fill="none" stroke="#8c8c8c" stroke-width="9"/>
<path d="M850,560L745,968" fill="none" stroke="#8c8c8c" stroke-width="20"/>
<text class="wm" x="35" y="622" font-size="140" textLength="1145" lengthAdjust="spacing">SCITEPRESS</text>
<text class="wm" x="38" y="697" font-size="54" textLength="1125" lengthAdjust="spacing">SCIENCE AND TECHNOLOGY PUBLICATIONS</text>
</g>
</svg>
